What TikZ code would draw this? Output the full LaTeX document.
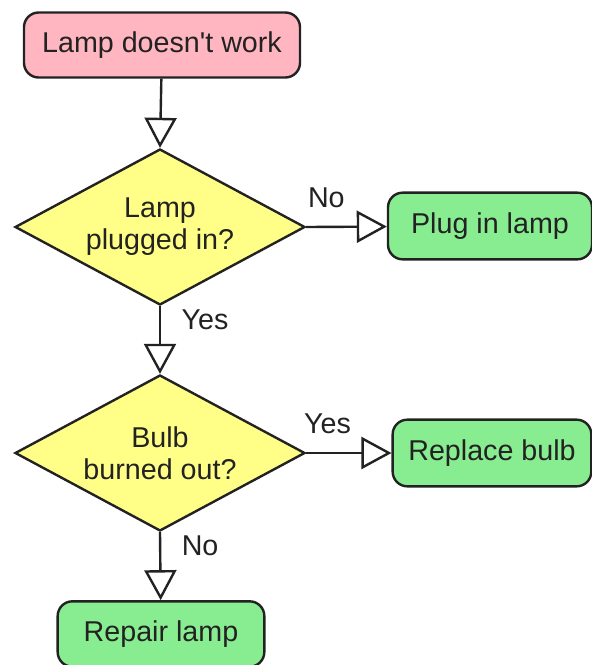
\documentclass[tikz,border=0pt]{standalone}
\usepackage{fontspec}
\setmainfont{Liberation Sans}
\usetikzlibrary{shapes.geometric,arrows.meta}
\definecolor{startpink}{RGB}{255,182,193}
\definecolor{askyellow}{RGB}{255,255,136}
\definecolor{fixgreen}{RGB}{136,236,144}
\definecolor{inkgray}{RGB}{34,34,34}

\begin{document}
\begin{tikzpicture}[x=0.75pt,y=-0.75pt,
  every node/.style={text=inkgray,font=\fontsize{21.5}{24}\selectfont},
  endbox/.style={draw=inkgray,line width=1.8pt,rounded corners=11pt,inner sep=0pt},
  askbox/.style={diamond,draw=inkgray,line width=1.8pt,fill=askyellow,align=center,
    inner sep=0pt,aspect=1.86,minimum width=217.5pt,minimum height=117pt},
  flow/.style={draw=inkgray,line width=1.8pt,
    -{Triangle[open,length=22.5pt,width=24pt,fill=white]}}]
\useasboundingbox (0,0) rectangle (592,665);
\node[endbox,fill=startpink,minimum width=207pt,minimum height=48.75pt] (N0) at (162,45) {Lamp doesn\textquotesingle t work};
\node[askbox] (N1) at (160,227) {Lamp\\plugged in?};
\node[endbox,fill=fixgreen,minimum width=153pt,minimum height=50pt] (N2) at (490,226) {Plug in lamp};
\node[askbox] (N3) at (160,453) {Bulb\\burned out?};
\node[endbox,fill=fixgreen,minimum width=149pt,minimum height=50pt] (N4) at (492,453) {Replace bulb};
\node[endbox,fill=fixgreen,minimum width=155pt,minimum height=49pt] (N5) at (161,634) {Repair lamp};
\draw[flow] (N0) -- (N1.north);
\draw[flow] (N1.east) -- node[above=10pt,pos=0.25]{No} (N2);
\draw[flow] (N1.south) -- node[right=12pt,pos=0.2]{Yes} (N3.north);
\draw[flow] (N3.east) -- node[above=10pt,pos=0.25]{Yes} (N4);
\draw[flow] (N3.south) -- node[right=12pt,pos=0.2]{No} (N5);
\end{tikzpicture}
\end{document}
